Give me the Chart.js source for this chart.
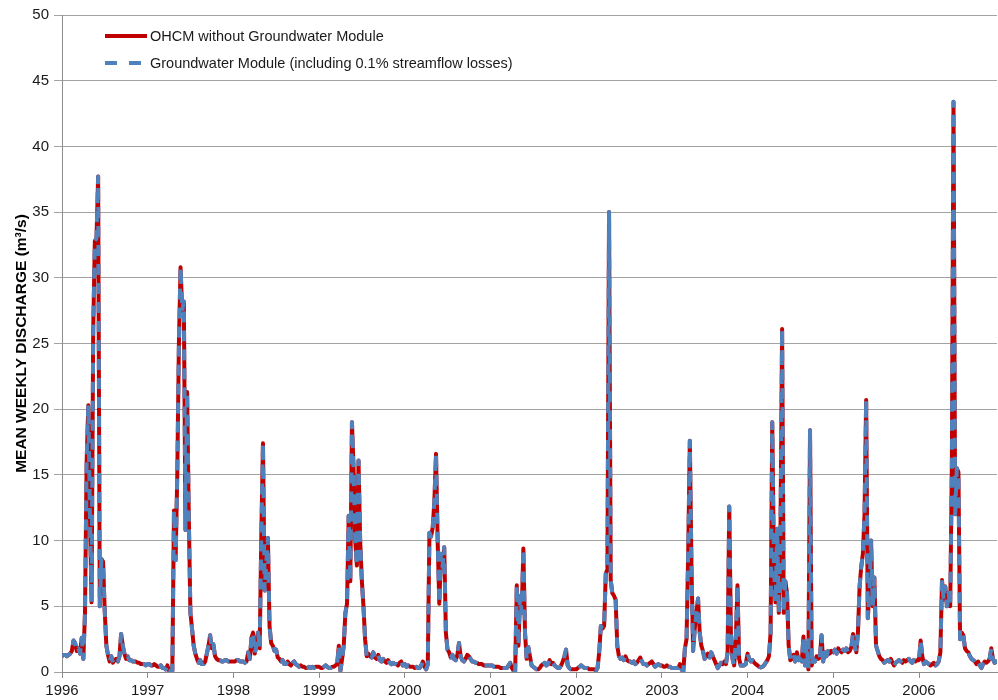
<!DOCTYPE html>
<html>
<head>
<meta charset="utf-8">
<script src="https://cdn.jsdelivr.net/npm/chart.js@4.4.1/dist/chart.umd.min.js"></script>
<style>
html,body{margin:0;padding:0;background:#ffffff;}
#wrap{width:998px;height:700px;position:relative;}
canvas{display:block;}
</style>
</head>
<body>
<div id="wrap"><canvas id="chart" width="998" height="700"></canvas></div>
<script>
// ---- data (mean weekly discharge, m3/s), one array per calendar year, weekly values ----
const seriesNames = ['OHCM without Groundwater Module', 'Groundwater Module (including 0.1% streamflow losses)'];
const yearLabels = ['1996','1997','1998','1999','2000','2001','2002','2003','2004','2005','2006'];
const axisTitle = 'MEAN WEEKLY DISCHARGE (m\u00B3/s)';

const q1996 = [1.2,1.3,1.3,1.2,1.3,1.4,1.6,2.4,2.2,1.6,1.8,1.4,2.6,1.0,4.5,16.0,20.3,12.0,5.3,26.0,32.8,33.0,37.7,5.0,8.6,8.4,4.7,2.0,1.3,0.8,1.2,0.7,0.9,1.0,0.8,1.2,2.9,2.0,1.4,1.0,1.2,0.9,0.9,0.8,0.8,0.8,0.7,0.7,0.6,0.6,0.6,0.5];
const q1997 = [0.6,0.6,0.5,0.5,0.6,0.5,0.4,0.4,0.5,0.3,0.3,0.2,0.5,0.05,0.1,0.1,12.3,8.5,15.0,25.0,30.8,27.5,28.2,10.8,21.3,12.0,4.5,3.3,2.0,1.4,1.0,0.7,0.9,0.6,0.6,0.8,1.4,2.0,2.8,1.8,2.1,1.2,1.0,0.9,0.9,0.8,0.8,0.9,0.9,0.8,0.8,0.8];
const q1998 = [0.8,0.8,0.9,0.9,0.8,0.8,0.8,0.7,0.8,1.5,1.0,2.6,3.0,1.4,2.0,3.0,1.8,10.5,17.4,6.2,8.3,10.2,3.5,2.2,2.0,1.6,1.7,1.1,1.0,0.8,0.9,0.6,0.6,0.8,0.6,0.5,0.7,0.8,0.6,0.5,0.4,0.5,0.4,0.4,0.3,0.3,0.4,0.3,0.4,0.3,0.4,0.4];
const q1999 = [0.4,0.3,0.3,0.4,0.5,0.4,0.3,0.3,0.4,0.4,0.5,0.6,2.0,0.1,1.0,2.0,4.5,5.2,11.9,6.9,19.0,15.4,10.0,8.1,16.1,10.0,7.0,5.0,2.5,1.2,1.4,1.2,1.1,1.5,1.1,1.0,1.3,0.9,0.8,1.0,0.8,0.7,0.9,0.7,0.6,0.7,0.6,0.6,0.5,0.7,0.8,0.5];
const q2000 = [0.6,0.4,0.5,0.4,0.4,0.4,0.3,0.4,0.3,0.3,0.5,0.8,0.4,0.2,0.6,10.6,10.3,11.0,13.0,16.6,10.0,5.2,9.0,8.0,9.5,3.0,1.7,1.5,1.1,1.3,1.0,0.9,1.3,2.2,1.2,0.9,0.8,1.0,1.3,1.2,1.0,0.8,0.8,0.7,0.7,0.6,0.6,0.6,0.5,0.5,0.5,0.5];
const q2001 = [0.5,0.5,0.4,0.4,0.4,0.4,0.3,0.3,0.3,0.3,0.3,0.5,0.7,0.3,0.1,0.0,6.6,2.0,5.8,4.5,9.4,3.0,1.0,1.9,1.2,0.5,0.4,0.3,0.2,0.2,0.3,0.5,0.6,0.7,0.5,0.6,0.9,0.6,0.7,0.5,0.4,0.3,0.3,0.5,0.8,1.2,1.7,0.5,0.3,0.2,0.2,0.2];
const q2002 = [0.2,0.3,0.4,0.5,0.4,0.3,0.3,0.3,0.2,0.2,0.2,0.2,0.1,0.3,1.5,3.5,3.3,3.5,7.5,7.8,35.0,7.0,6.0,5.8,5.5,2.0,1.2,1.0,1.1,0.9,1.2,0.9,0.8,0.8,0.7,0.8,0.6,0.7,0.9,1.1,0.8,0.6,0.6,0.5,0.6,0.7,0.8,0.6,0.4,0.5,0.6,0.5];
const q2003 = [0.5,0.4,0.4,0.5,0.4,0.4,0.3,0.3,0.3,0.3,0.3,0.6,0.2,0.0,1.8,2.5,9.0,17.6,8.0,1.6,3.3,4.5,5.6,3.0,2.0,1.6,1.0,1.2,1.4,1.1,1.5,1.2,0.9,0.6,0.3,0.5,0.7,0.6,0.8,0.6,1.5,12.6,3.0,1.0,0.5,2.5,6.6,1.0,0.5,0.5,0.5,0.6];
const q2004 = [1.4,1.0,0.8,0.9,0.7,0.6,0.5,0.4,0.35,0.4,0.5,0.7,0.9,1.2,3.0,19.0,8.2,5.3,10.9,4.5,10.5,26.1,4.5,6.9,6.0,2.0,0.9,1.0,1.3,0.8,1.5,0.9,1.0,0.8,2.7,0.5,2.2,0.2,18.4,0.5,1.0,0.8,1.2,1.0,1.1,2.8,0.8,1.5,1.2,1.6,1.4,1.6];
const q2005 = [1.5,1.7,1.4,1.8,1.6,1.5,1.7,1.6,1.8,1.5,1.6,1.9,2.9,2.0,1.5,3.0,6.5,8.0,9.0,12.0,20.7,4.1,6.0,10.0,5.0,7.2,2.0,1.6,1.2,1.0,0.9,0.7,0.8,0.9,0.8,1.0,0.7,0.5,0.7,0.8,0.9,0.8,0.7,0.9,0.8,0.9,1.0,0.8,0.7,0.9,0.8,0.9];
const q2006 = [0.9,2.4,1.2,0.6,0.8,0.7,0.6,0.5,0.6,0.7,0.5,0.6,0.8,1.5,7.0,5.5,6.5,5.0,6.0,5.0,15.8,43.4,12.0,15.5,15.2,2.5,3.0,2.8,1.8,1.6,1.5,1.2,1.0,0.9,0.8,0.6,0.8,0.5,0.3,0.6,0.8,0.7,0.8,1.0,1.8,1.0,0.7,0.8,0.7];

// The two simulations plot on top of each other in the figure (identical readings)
const ohcmByYear = [q1996,q1997,q1998,q1999,q2000,q2001,q2002,q2003,q2004,q2005,q2006];
const groundwaterByYear = [q1996,q1997,q1998,q1999,q2000,q2001,q2002,q2003,q2004,q2005,q2006];

// build {x: decimal year, y} points: week j of a year sits at year + j weeks
function toPoints(byYear) {
  const pts = [];
  byYear.forEach((vals, k) => {
    const yr = Number(yearLabels[k]);
    vals.forEach((v, j) => pts.push({x: yr + j * 7 / 365.25, y: v}));
  });
  return pts;
}

const FONT = '"Liberation Sans", Arial, Helvetica, sans-serif';
Chart.defaults.font.family = FONT;

const insideLegend = {
  id: 'insideLegend',
  afterDraw(chart) {
    const {ctx, chartArea} = chart;
    chart.data.datasets.forEach((ds, i) => {
      const y = chartArea.top + 21 + i * 27;
      const x0 = chartArea.left + 43;
      const x1 = chartArea.left + 85;
      ctx.save();
      ctx.strokeStyle = ds.borderColor;
      ctx.lineWidth = 4;
      ctx.lineCap = 'butt';
      ctx.setLineDash(ds.legendDash || []);
      ctx.beginPath();
      ctx.moveTo(x0, y);
      ctx.lineTo(x1, y);
      ctx.stroke();
      ctx.setLineDash([]);
      ctx.fillStyle = '#1a1a1a';
      ctx.font = '14.5px ' + FONT;
      ctx.textBaseline = 'middle';
      ctx.textAlign = 'left';
      ctx.fillText(ds.label, x1 + 3, y + 1);
      ctx.restore();
    });
  }
};

new Chart(document.getElementById('chart'), {
  type: 'line',
  data: {
    datasets: [
      {
        label: seriesNames[0],
        data: toPoints(ohcmByYear),
        borderColor: '#C00000',
        backgroundColor: '#C00000',
        borderWidth: 4,
        pointRadius: 0,
        tension: 0,
        borderJoinStyle: 'round',
        order: 2,
        legendDash: []
      },
      {
        label: seriesNames[1],
        data: toPoints(groundwaterByYear),
        borderColor: '#4F81BD',
        backgroundColor: '#4F81BD',
        borderWidth: 4,
        borderDash: [11, 8],
        borderCapStyle: 'butt',
        pointRadius: 0,
        tension: 0,
        borderJoinStyle: 'round',
        order: 1,
        legendDash: [12, 12]
      }
    ]
  },
  options: {
    responsive: false,
    animation: false,
    devicePixelRatio: 1,
    layout: { padding: { top: 15, right: 1, left: 0, bottom: 0 } },
    plugins: { legend: { display: false }, tooltip: { enabled: false } },
    scales: {
      x: {
        type: 'linear',
        min: 1996,
        max: 2006.91,
        ticks: {
          stepSize: 1,
          includeBounds: false,
          autoSkip: false,
          maxRotation: 0,
          padding: 4,
          color: '#1a1a1a',
          font: { size: 15 },
          callback: (v) => {
            const k = Math.round(v - 1996);
            return yearLabels[k] !== undefined ? yearLabels[k] : '';
          }
        },
        grid: { drawOnChartArea: false, drawTicks: true, tickLength: 6, color: '#8c8c8c', tickColor: '#8c8c8c' },
        border: { color: '#8c8c8c', width: 1 },
        afterFit: (s) => { s.height = 28; }
      },
      y: {
        min: 0,
        max: 50,
        ticks: { stepSize: 5, padding: 5, color: '#1a1a1a', font: { size: 15 } },
        grid: { color: '#a3a3a3', tickLength: 8, tickColor: '#a3a3a3' },
        border: { color: '#8c8c8c', width: 1 },
        title: {
          display: true,
          text: axisTitle,
          color: '#000000',
          font: { size: 15.5, weight: 'bold' },
          padding: { top: 12, bottom: 0 }
        },
        afterFit: (s) => { s.width = 62; }
      }
    }
  },
  plugins: [insideLegend]
});
</script>
</body>
</html>
